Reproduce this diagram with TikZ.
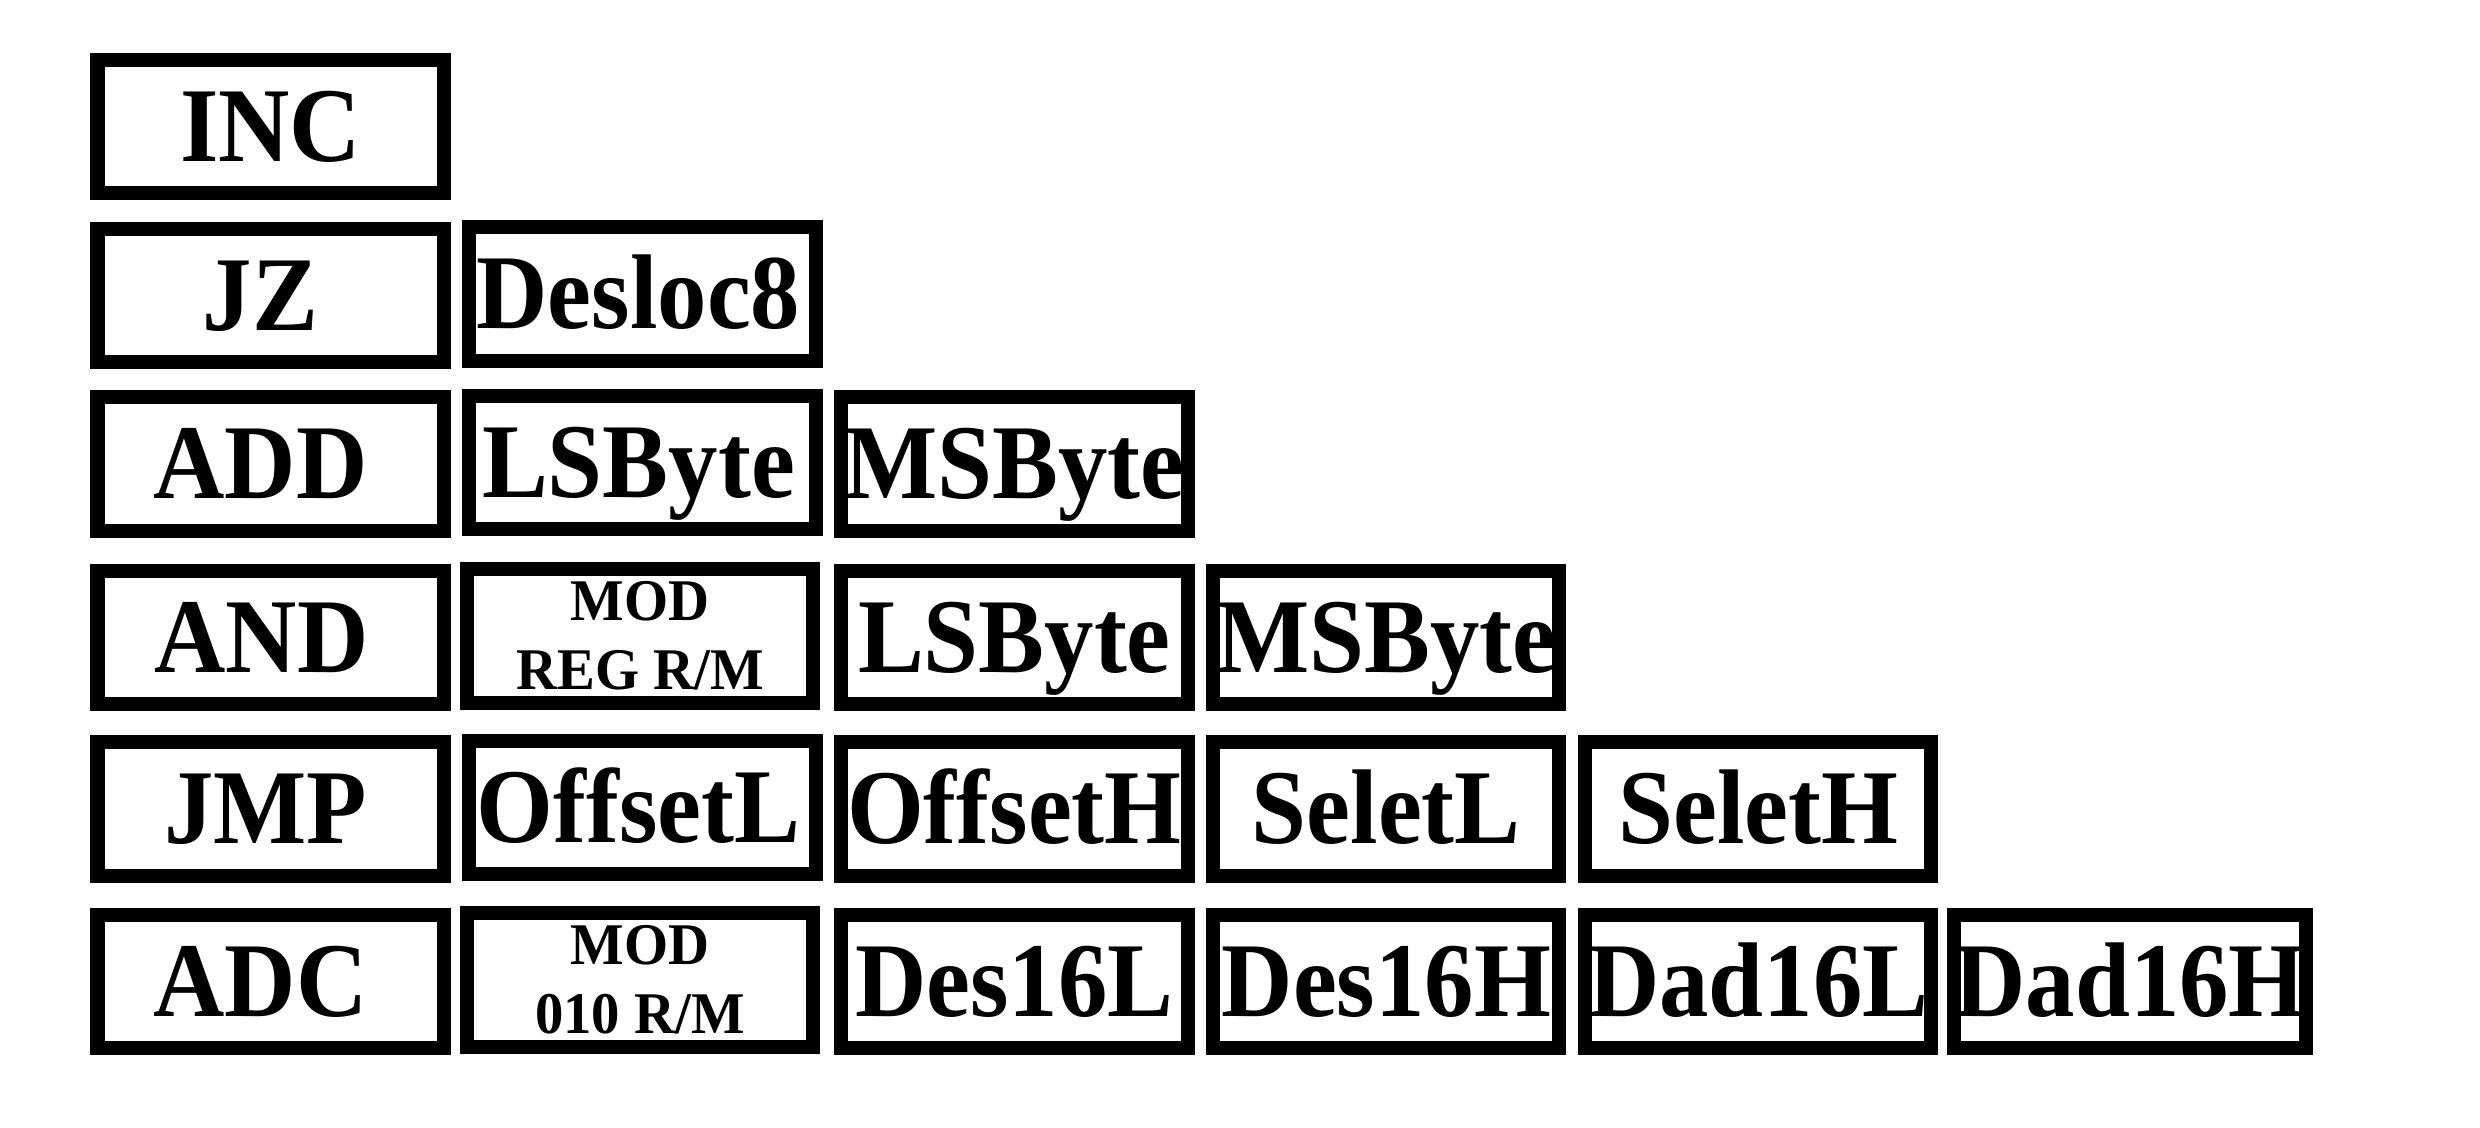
\documentclass[tikz,border=0pt]{standalone}
\usepackage{fontspec}
\newfontfamily\cellfont{Liberation Serif}[FakeStretch=0.93,UprightFont=* Bold]
\newfontfamily\cellfontsmall{Liberation Serif}[FakeStretch=0.96,UprightFont=* Bold]
\begin{document}
\begin{tikzpicture}[x=0.01cm,y=-0.01cm,
  cellbox/.style={draw=black, line width=0.14cm, minimum width=3.46cm, minimum height=1.33cm,
                  inner sep=0pt, outer sep=0pt},
  bigcell/.style={cellbox, font=\cellfont\fontsize{30.2pt}{36pt}\selectfont,
                  text height=19.8pt, text depth=0pt},
  smallcell/.style={cellbox, font=\cellfontsmall\fontsize{16.8pt}{19.6pt}\selectfont, align=center},
  leftby/.style={execute at begin node={\kern-#1}}]
\path[use as bounding box] (0,0) rectangle (2480,1128);
% columns: 270.6 + 371.9*i
% row 1
\node[bigcell] (inc) at (270.6,126.5) {INC};
% row 2
\node[bigcell, leftby=0.2cm] (jz) at (270.6,295.5) {JZ};
\node[bigcell, leftby=0.08cm] (jzdesl) at (642.5,294) {Desloc8};
% row 3
\node[bigcell, leftby=0.2cm] (add) at (270.6,464) {ADD};
\node[bigcell, leftby=0.08cm] (addls) at (642.5,462.5) {LSByte};
\node[bigcell] (addms) at (1014.4,464) {MSByte};
% row 4
\node[bigcell, leftby=0.18cm] (and) at (270.6,637.5) {AND};
\node[smallcell] (andmod) at (640,636) {MOD\\REG R/M};
\node[bigcell] (andls) at (1014.4,637.5) {LSByte};
\node[bigcell] (andms) at (1386.3,637.5) {MSByte};
% row 5
\node[bigcell, leftby=0.1cm] (jmp) at (270.6,809) {JMP};
\node[bigcell, leftby=0.08cm] (jmpol) at (642.5,807.5) {OffsetL};
\node[bigcell] (jmpoh) at (1014.4,809) {OffsetH};
\node[bigcell] (jmpsl) at (1386.3,809) {SeletL};
\node[bigcell] (jmpsh) at (1758.2,809) {SeletH};
% row 6
\node[bigcell, leftby=0.2cm] (adc) at (270.6,981.5) {ADC};
\node[smallcell] (adcmod) at (640,980) {MOD\\010 R/M};
\node[bigcell] (adcdl) at (1014.4,981.5) {Des16L};
\node[bigcell] (adcdh) at (1386.3,981.5) {Des16H};
\node[bigcell] (adcal) at (1758.2,981.5) {Dad16L};
\node[bigcell] (adcah) at (2130.1,981.5) {Dad16H};
\end{tikzpicture}
\end{document}
